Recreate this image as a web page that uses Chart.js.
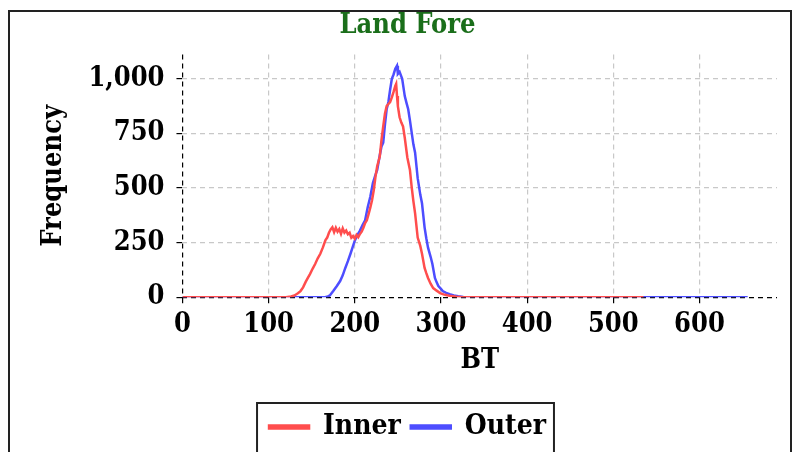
<!DOCTYPE html>
<html>
<head>
<meta charset="utf-8">
<script src="https://cdn.jsdelivr.net/npm/chart.js@4.4.1/dist/chart.umd.min.js"></script>
<style>
  html, body { margin: 0; padding: 0; overflow: hidden; background: #fff; }
  #frame { position: absolute; left: 8px; top: 10px; width: 780px; height: 520px; border: 2px solid #222; }
  #histChart { position: absolute; left: 0; top: 0; }
</style>
</head>
<body>
<div id="frame"></div>
<canvas id="histChart" width="803" height="480"></canvas>
<script>
// Inner (red) histogram
var innerBT = [0, 120, 126, 130, 134, 137, 140, 143, 146, 148, 151, 154, 157, 160, 163, 166, 168, 170, 172, 174, 176, 178, 180, 182, 184, 186, 188, 190, 192, 194, 196, 198, 200, 202, 204, 206, 208, 210, 212, 214, 216, 218, 220, 222, 224, 226, 229, 231, 233, 235, 237, 239, 241, 243, 245, 247, 248, 249, 250, 252, 254, 256, 258, 261, 264, 266, 268, 270, 273, 276, 278, 281, 283, 285, 288, 291, 295, 299, 303, 307, 312, 318, 325, 535];
var innerFreq = [0, 0, 3, 8, 18, 28, 45, 70, 92, 106, 130, 152, 178, 199, 228, 262, 273, 295, 310, 320, 298, 318, 300, 312, 290, 315, 296, 305, 288, 295, 272, 280, 268, 285, 275, 290, 300, 318, 340, 352, 380, 410, 444, 490, 551, 600, 644, 720, 782, 840, 875, 885, 894, 915, 940, 968, 977, 921, 875, 824, 800, 782, 730, 640, 583, 505, 440, 384, 273, 235, 199, 134, 110, 88, 62, 42, 30, 19, 13, 9, 5, 2, 0, 0];

// Outer (blue) histogram
var outerBT = [0, 165, 168, 171, 175, 179, 183, 186, 189, 192, 195, 198, 200, 203, 206, 209, 212, 215, 218, 221, 224, 226, 229, 231, 233, 235, 237, 239, 241, 243, 245, 247, 249, 250, 252, 255, 258, 260, 262, 264, 266, 268, 270, 273, 276, 278, 281, 283, 285, 288, 290, 293, 295, 297, 300, 302, 306, 310, 315, 320, 326, 332, 656];
var outerFreq = [0, 0, 2, 8, 28, 50, 74, 100, 134, 165, 199, 235, 259, 285, 305, 330, 352, 412, 460, 523, 560, 583, 650, 690, 708, 790, 861, 894, 950, 1000, 1020, 1046, 1060, 1023, 1032, 1000, 921, 890, 861, 810, 755, 700, 662, 545, 470, 430, 320, 270, 227, 185, 153, 88, 68, 51, 38, 28, 20, 14, 8, 4, 1, 0, 0];

var xTicks = [0, 100, 200, 300, 400, 500, 600];
var yTicks = [0, 250, 500, 750, 1000];

var serif = "'DejaVu Serif Condensed', 'DejaVu Serif', serif";

function toPoints(xs, ys) {
  return xs.map(function(x, i) { return { x: x, y: ys[i] }; });
}

function keepTicks(list) {
  return function(axis) {
    axis.ticks = list.map(function(v) { return { value: v }; });
  };
}

function gridColor(ctx) {
  return ctx.tick && ctx.tick.value === 0 ? '#000' : '#c8c8c8';
}

// box round the legend
var legendBox = {
  id: 'legendBox',
  afterDraw: function(chart) {
    var boxes = chart.legend.legendHitBoxes;
    if (!boxes || !boxes.length) return;
    var last = boxes[boxes.length - 1];
    var l = boxes[0].left - 12, r = last.left + last.width + 8;
    var t = boxes[0].top - 10, b = boxes[0].top + boxes[0].height + 40;
    var ctx = chart.ctx;
    ctx.save();
    ctx.strokeStyle = '#222';
    ctx.lineWidth = 2;
    ctx.strokeRect(l, t, r - l, b - t);
    ctx.restore();
  }
};

var ctx = document.getElementById('histChart').getContext('2d');
var chart = new Chart(ctx, {
  type: 'line',
  data: {
    datasets: [
      {
        label: 'Inner',
        data: toPoints(innerBT, innerFreq),
        borderColor: '#ff4d4d',
        backgroundColor: '#ff4d4d',
        borderWidth: 2.5,
        pointRadius: 0,
      },
      {
        label: 'Outer',
        data: toPoints(outerBT, outerFreq),
        borderColor: '#4d4dff',
        backgroundColor: '#4d4dff',
        borderWidth: 2.5,
        pointRadius: 0,
      },
    ],
  },
  options: {
    responsive: false,
    animation: false,
    maintainAspectRatio: false,
    layout: { padding: { left: 38, right: 26, top: 6, bottom: 29 } },
    plugins: {
      title: {
        display: true,
        text: 'Land Fore',
        color: '#1a6e1a',
        font: { family: serif, size: 27, weight: 'bold' },
        padding: { top: 4, bottom: 12 },
      },
      legend: {
        position: 'bottom',
        labels: {
          color: '#000',
          font: { family: serif, size: 28, weight: 'bold' },
          boxWidth: 40,
          boxHeight: 3,
          padding: 10,
        },
      },
      tooltip: { enabled: false },
    },
    scales: {
      x: {
        type: 'linear',
        min: 0,
        max: 690,
        afterBuildTicks: keepTicks(xTicks),
        grid: { color: gridColor, tickColor: '#000', tickLength: 6, lineWidth: 1.2 },
        border: { display: false, dash: [5, 4] },
        ticks: { color: '#000', font: { family: serif, size: 27, weight: 'bold' }, padding: 6, maxRotation: 0 },
        title: { display: true, text: 'BT', color: '#000', font: { family: serif, size: 27, weight: 'bold' }, padding: { top: -3, bottom: 26 } },
      },
      y: {
        min: 0,
        max: 1112,
        afterBuildTicks: keepTicks(yTicks),
        grid: { color: gridColor, tickColor: '#000', tickLength: 6, lineWidth: 1.2 },
        border: { display: false, dash: [5, 4] },
        ticks: { color: '#000', font: { family: serif, size: 27, weight: 'bold' }, padding: 12 },
        title: { display: true, text: 'Frequency', color: '#000', font: { family: serif, size: 27, weight: 'bold' }, padding: { top: 0, bottom: 6 } },
      },
    },
  },
  plugins: [legendBox],
});
</script>
</body>
</html>
